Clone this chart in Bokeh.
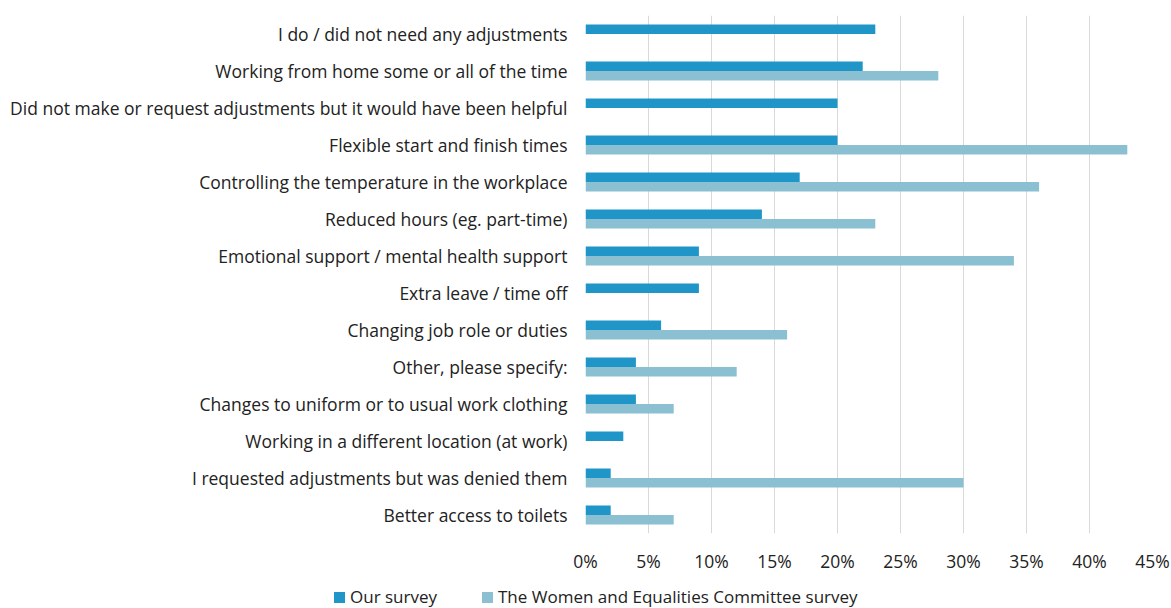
from bokeh.plotting import figure
from bokeh.layouts import column
from bokeh.models import (FactorRange, Range1d, NumeralTickFormatter, FixedTicker,
                          ColumnDataSource, Div)
from bokeh.transform import dodge
from bokeh.embed import file_html
from bokeh.resources import INLINE

categories = [
    "I do / did not need any adjustments",
    "Working from home some or all of the time",
    "Did not make or request adjustments but it would have been helpful",
    "Flexible start and finish times",
    "Controlling the temperature in the workplace",
    "Reduced hours (eg. part-time)",
    "Emotional support / mental health support",
    "Extra leave / time off",
    "Changing job role or duties",
    "Other, please specify:",
    "Changes to uniform or to usual work clothing",
    "Working in a different location (at work)",
    "I requested adjustments but was denied them",
    "Better access to toilets",
]
our_survey = [23, 22, 20, 20, 17, 14, 9, 9, 6, 4, 4, 3, 2, 2]
wec_survey = [None, 28, None, 43, 36, 23, 34, None, 16, 12, 7, None, 30, 7]
x_ticks = [0, 0.05, 0.10, 0.15, 0.20, 0.25, 0.30, 0.35, 0.40, 0.45]
series_names = ["Our survey", "The Women and Equalities Committee survey"]

FONT = "Open Sans"
TEXT = "#222222"
C_OUR = "#1f95c8"
C_WEC = "#8bbfd2"

src_our = ColumnDataSource(dict(cat=categories, val=[v / 100 for v in our_survey]))
wc = [c for c, v in zip(categories, wec_survey) if v is not None]
wv = [v / 100 for v in wec_survey if v is not None]
src_wec = ColumnDataSource(dict(cat=wc, val=wv))

p = figure(
    width=1171, height=583,
    y_range=FactorRange(factors=list(reversed(categories))),
    x_range=Range1d(0, 0.45),
    output_backend="svg", toolbar_location=None,
    min_border_left=585, min_border_right=19, min_border_top=15, min_border_bottom=50,
)
p.outline_line_color = None

p.hbar(y=dodge("cat", 0.13, range=p.y_range), right="val", left=0, height=0.26,
       source=src_our, fill_color=C_OUR, line_color=None)
p.hbar(y=dodge("cat", -0.13, range=p.y_range), right="val", left=0, height=0.26,
       source=src_wec, fill_color=C_WEC, line_color=None)

p.xaxis.ticker = FixedTicker(ticks=x_ticks)
p.xaxis.formatter = NumeralTickFormatter(format="0%")
for ax in (p.xaxis[0], p.yaxis[0]):
    ax.axis_line_color = None
    ax.major_tick_line_color = None
    ax.minor_tick_line_color = None
    ax.major_label_text_font = FONT
    ax.major_label_text_font_size = "17.5px"
    ax.major_label_text_color = TEXT
p.yaxis.major_label_standoff = 12
p.xaxis.major_label_standoff = 9

p.ygrid.grid_line_color = None
p.xgrid.grid_line_color = "#d9d9d9"
p.xgrid.grid_line_width = 1

# legend strip below the chart
def item(left, color, label):
    sq = (f'<span style="position:absolute;left:{left}px;top:9px;width:11px;height:11px;'
          f'background:{color};"></span>')
    tx = (f'<span style="position:absolute;left:{left + 16}px;top:5px;line-height:17px;'
          f'white-space:nowrap;">{label}</span>')
    return sq + tx

legend_html = (
    f'<div style="position:relative;width:1171px;height:25px;font-family:\'{FONT}\';'
    f'font-size:17px;color:{TEXT};">'
    + item(334, C_OUR, series_names[0])
    + item(482, C_WEC, series_names[1])
    + '</div>'
)
legend_div = Div(text=legend_html, width=1171, height=25, margin=0)

open("out.html", "w").write(file_html(column(p, legend_div, spacing=0), INLINE))
